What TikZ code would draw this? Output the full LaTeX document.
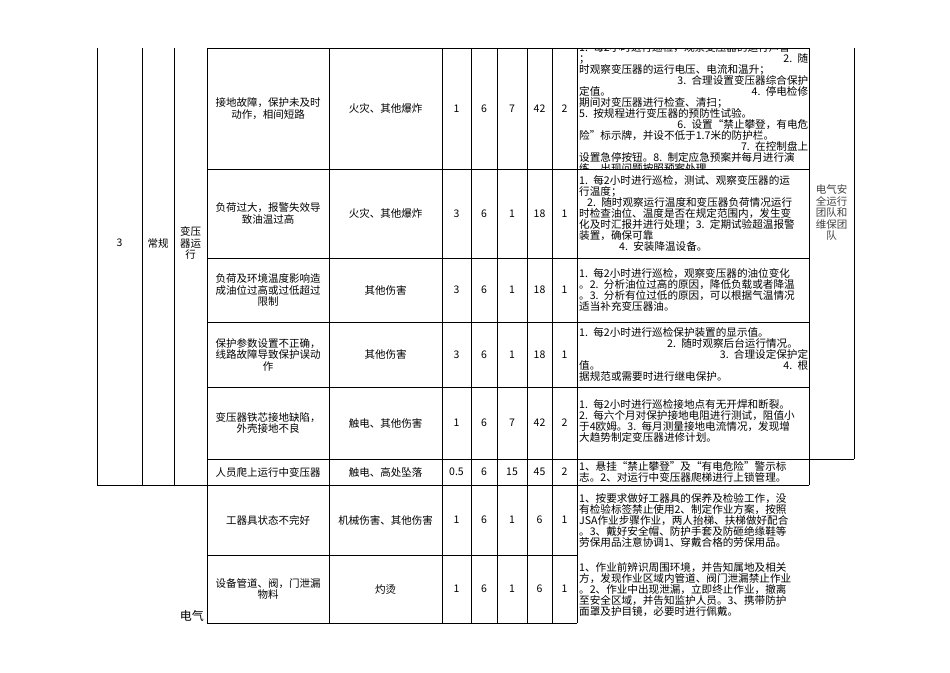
\documentclass[tikz,border=0pt]{standalone}
\usepackage{fontspec}
\setmainfont{Noto Sans CJK SC}
\newcommand\hr{\hskip 0pt plus 1fill\relax}
\begin{document}
\begin{tikzpicture}[x=1pt,y=-1pt,
  cell/.style={align=center,font=\fontsize{10.5}{11.5}\selectfont,inner sep=0pt},
  meas/.style={align=left,text width=229pt,anchor=west,inner sep=0pt,font=\fontsize{10.6}{11}\selectfont},
  ln/.style={line width=0.8pt}]
\useasboundingbox (0,0) rectangle (950,672);
% grid
\draw[ln] (97,48) -- (97,485) (142,48) -- (142,485) (174,48) -- (174,485);
\draw[ln] (207,48) -- (207,623);
\foreach \x in {329,442,471,497,527,552,577} \draw[ln] (\x,48) -- (\x,623);
\draw[ln] (809,48) -- (809,485);
\draw[ln] (854,48) -- (854,459);
\draw[ln] (207,48) -- (809,48);
\foreach \y in {169,258,322,387} \draw[ln] (207,\y) -- (809,\y);
\draw[ln] (207,459) -- (854,459);
\draw[ln] (97,485) -- (809,485);
\draw[ln] (207,555) -- (577,555);
\draw[ln] (207,623) -- (577,623);
% left cells
\node[cell] (no) at (119.5,243) {3};
\node[cell] (cg) at (158,243) {常规};
\node[cell] (task) at (190.5,243) {变压\\器运\\行};
\node[cell,anchor=south east] (dq) at (204,622) {\fontsize{12}{13}\selectfont 电气};
% rows
\foreach \n/\yc/\h/\c/\L/\E/\C/\D/\G in {
 a/108.5/{接地故障，保护未及时\\动作，相间短路}/{火灾、其他爆炸}/1/6/7/42/2,
 b/213.5/{负荷过大，报警失效导\\致油温过高}/{火灾、其他爆炸}/3/6/1/18/1,
 c/290/{负荷及环境温度影响造\\成油位过高或过低超过\\限制}/{其他伤害}/3/6/1/18/1,
 d/354.5/{保护参数设置不正确，\\线路故障导致保护误动\\作}/{其他伤害}/3/6/1/18/1,
 e/423/{变压器铁芯接地缺陷，\\外壳接地不良}/{触电、其他伤害}/1/6/7/42/2,
 f/472/{人员爬上运行中变压器}/{触电、高处坠落}/0.5/6/15/45/2,
 g/520/{工器具状态不完好}/{机械伤害、其他伤害}/1/6/1/6/1,
 h/589/{设备管道、阀，门泄漏\\物料}/{灼烫}/1/6/1/6/1}{
  \node[cell] (h\n) at (268,\yc) {\h};
  \node[cell] (c\n) at (385.5,\yc) {\c};
  \node[cell] (L\n) at (456.5,\yc) {\L};
  \node[cell] (E\n) at (484,\yc) {\E};
  \node[cell] (C\n) at (512,\yc) {\C};
  \node[cell] (D\n) at (539.5,\yc) {\D};
  \node[cell] (G\n) at (564.5,\yc) {\G};
}
% measures
\begin{scope}
\clip (577,48) rectangle (809,169);
\node[meas] (ma) at (579,108.5) {1. 每2小时进行巡检，观察变压器的运行声音\\；\hr 2. 随\\时观察变压器的运行电压、电流和温升；\\\hr 3. 合理设置变压器综合保护\\定值。\hr 4. 停电检修\\期间对变压器进行检查、清扫；\\ 5. 按规程进行变压器的预防性试验。\\\hr 6. 设置“禁止攀登，有电危\\险”标示牌，并设不低于1.7米的防护栏。\\\hr 7. 在控制盘上\\设置急停按钮。8. 制定应急预案并每月进行演\\练，出现问题按照预案处理。};
\end{scope}
\node[meas] (mb) at (579,213.5) {1. 每2小时进行巡检，测试、观察变压器的运\\行温度；\\\hspace*{8pt}2. 随时观察运行温度和变压器负荷情况运行\\时检查油位、温度是否在规定范围内，发生变\\化及时汇报并进行处理；3. 定期试验超温报警\\装置，确保可靠\\\hspace*{40pt}4. 安装降温设备。};
\node[meas] (mc) at (579,290) {1. 每2小时进行巡检，观察变压器的油位变化\\。2. 分析油位过高的原因，降低负载或者降温\\。3. 分析有位过低的原因，可以根据气温情况\\适当补充变压器油。};
\node[meas] (md) at (579,354.5) {1. 每2小时进行巡检保护装置的显示值。\\\hspace*{88pt}2. 随时观察后台运行情况。\\\hr 3. 合理设定保护定\\值。\hr 4. 根\\据规范或需要时进行继电保护。};
\node[meas] (me) at (579,421) {1. 每2小时进行巡检接地点有无开焊和断裂。\\2. 每六个月对保护接地电阻进行测试，阻值小\\于4欧姆。3. 每月测量接地电流情况，发现增\\大趋势制定变压器进修计划。};
\node[meas] (mf) at (579,472) {1、悬挂“禁止攀登”及“有电危险”警示标\\志。2、对运行中变压器爬梯进行上锁管理。};
\node[meas] (mg) at (579,520) {1、按要求做好工器具的保养及检验工作，没\\有检验标签禁止使用2、制定作业方案，按照\\JSA作业步骤作业，两人抬梯、扶梯做好配合\\。3、戴好安全帽、防护手套及防砸绝缘鞋等\\劳保用品注意协调1、穿戴合格的劳保用品。};
\node[meas] (mh) at (579,590) {1、作业前辨识周围环境，并告知属地及相关\\方，发现作业区域内管道、阀门泄漏禁止作业\\。2、作业中出现泄漏，立即终止作业，撤离\\至安全区域，并告知监护人员。3、携带防护\\面罩及护目镜，必要时进行佩戴。};
\node[cell,text=black!75] (team) at (831.5,213) {电气安\\全运行\\团队和\\维保团\\队};
\end{tikzpicture}
\end{document}
